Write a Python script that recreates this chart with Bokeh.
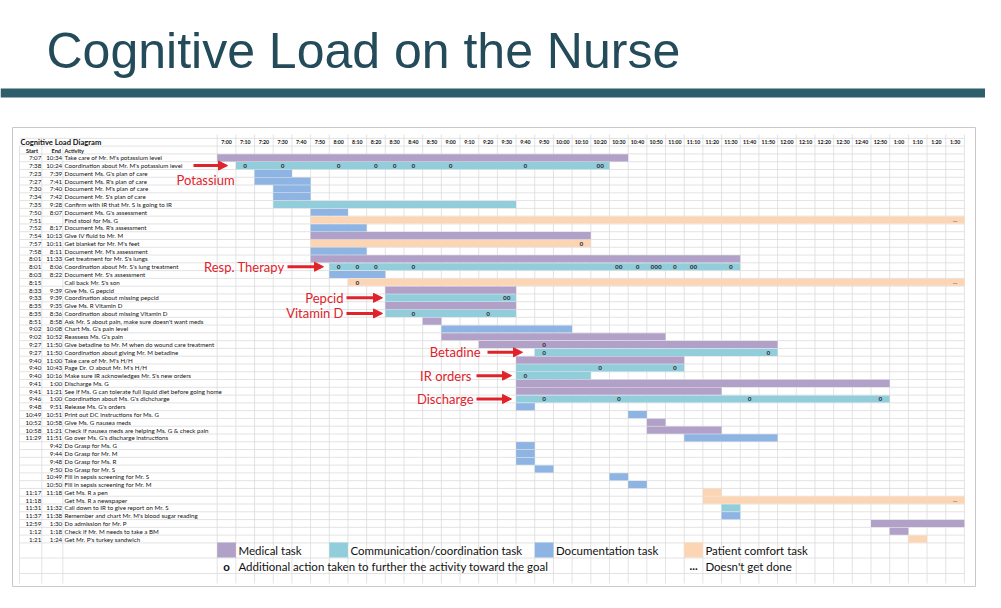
from bokeh.plotting import figure
from bokeh.models import Range1d, Arrow, NormalHead
from bokeh.embed import file_html
from bokeh.resources import INLINE
from bokeh.core.properties import value

# ---------------- data ----------------
tick_labels = ["7:00", "7:10", "7:20", "7:30", "7:40", "7:50", "8:00", "8:10", "8:20", "8:30",
               "8:40", "8:50", "9:00", "9:10", "9:20", "9:30", "9:40", "9:50", "10:00", "10:10",
               "10:20", "10:30", "10:40", "10:50", "11:00", "11:10", "11:20", "11:30", "11:40", "11:50",
               "12:00", "12:10", "12:20", "12:30", "12:40", "12:50", "1:00", "1:10", "1:20", "1:30"]

start_txt = ["7:07", "7:38", "7:23", "7:27", "7:30", "7:34", "7:35", "7:50", "7:51", "7:52",
             "7:54", "7:57", "7:58", "8:01", "8:01", "8:03", "8:15", "8:33", "9:33", "8:35",
             "8:35", "8:51", "9:02", "9:02", "9:27", "9:27", "9:40", "9:40", "9:40", "9:41",
             "9:41", "9:46", "9:48", "10:49", "10:52", "10:58", "11:29", "", "", "",
             "", "", "", "11:17", "11:18", "11:31", "11:37", "12:59", "1:12", "1:21"]

end_txt = ["10:34", "10:24", "7:39", "7:41", "7:40", "7:42", "9:28", "8:07", "", "8:17",
           "10:13", "10:11", "8:11", "11:33", "8:06", "8:22", "", "9:39", "9:39", "9:35",
           "8:36", "8:58", "10:08", "10:52", "11:50", "11:50", "11:00", "10:43", "10:16", "1:00",
           "11:21", "1:00", "9:51", "10:51", "10:58", "11:21", "11:51", "9:42", "9:44", "9:48",
           "9:50", "10:49", "10:50", "11:18", "", "11:32", "11:38", "1:30", "1:18", "1:24"]

activity = ["Take care of Mr. M's potassium level",
            "Coordination about Mr. M's potassium level",
            "Document Ms. G's plan of care",
            "Document Ms. R's plan of care",
            "Document Mr. M's plan of care",
            "Document Mr. S's plan of care",
            "Confirm with IR that Mr. S is going to IR",
            "Document Ms. G's assessment",
            "Find stool for Ms. G",
            "Document Ms. R's assessment",
            "Give IV fluid to Mr. M",
            "Get blanket for Mr. M's feet",
            "Document Mr. M's assessment",
            "Get treatment for Mr. S's lungs",
            "Coordination about Mr. S's lung treatment",
            "Document Mr. S's assessment",
            "Call back Mr. S's son",
            "Give Ms. G pepcid",
            "Coordination about missing pepcid",
            "Give Ms. R Vitamin D",
            "Coordination about missing Vitamin D",
            "Ask Mr. S about pain, make sure doesn't want meds",
            "Chart Ms. G's pain level",
            "Reassess Ms. G's pain",
            "Give betadine to Mr. M when do wound care treatment",
            "Coordination about giving Mr. M betadine",
            "Take care of Mr. M's H/H",
            "Page Dr. O about Mr. M's H/H",
            "Make sure IR acknowledges Mr. S's new orders",
            "Discharge Ms. G",
            "See if Ms. G can tolerate full liquid diet before going home",
            "Coordination about Ms. G's dichcharge",
            "Release Ms. G's orders",
            "Print out DC instructions for Ms. G",
            "Give Ms. G nausea meds",
            "Check if nausea meds are helping Ms. G & check pain",
            "Go over Ms. G's discharge instructions",
            "Do Grasp for Ms. G",
            "Do Grasp for Mr. M",
            "Do Grasp for Ms. R",
            "Do Grasp for Mr. S",
            "Fill in sepsis screening for Mr. S",
            "Fill in sepsis screening for Mr. M",
            "Get Ms. R a pen",
            "Get Ms. R a newspaper",
            "Call down to IR to give report on Mr. S",
            "Remember and chart Mr. M's blood sugar reading",
            "Do admission for Mr. P",
            "Check if Mr. M needs to take a BM",
            "Get Mr. P's turkey sandwich"]

# M = medical, C = communication/coordination, D = documentation, P = patient comfort
category = ["M", "C", "D", "D", "D", "D", "C", "D", "P", "D",
            "M", "P", "D", "M", "C", "D", "P", "M", "C", "M",
            "C", "M", "D", "M", "M", "C", "M", "C", "C", "M",
            "M", "C", "D", "D", "M", "M", "D", "D", "D", "D",
            "D", "D", "D", "P", "P", "C", "D", "M", "M", "P"]

# bar extent as drawn on the grid, minutes after 7:00
bar_from = [0, 10, 20, 20, 30, 30, 30, 50, 50, 50,
            50, 50, 50, 50, 60, 60, 70, 90, 90, 90,
            90, 110, 120, 120, 140, 170, 160, 160, 160, 160,
            160, 160, 160, 220, 230, 230, 250, 160, 160, 160,
            170, 210, 220, 260, 260, 270, 270, 350, 360, 370]
bar_to = [220, 210, 40, 50, 50, 50, 160, 70, 400, 80,
          200, 200, 80, 280, 280, 90, 400, 160, 160, 160,
          160, 120, 190, 240, 300, 300, 250, 250, 200, 360,
          270, 360, 170, 230, 240, 270, 300, 170, 170, 170,
          180, 220, 230, 270, 400, 280, 280, 400, 370, 380]

# "o" = additional action taken toward the goal (row, 10-minute cell, marks)
dot_row = [2, 2, 2, 2, 2, 2, 2, 2, 2,
           12,
           15, 15, 15, 15, 15, 15, 15, 15, 15, 15,
           17, 19, 21, 21, 25, 26, 26, 28, 28, 29,
           32, 32, 32, 32]
dot_at = [10, 30, 60, 80, 90, 100, 120, 160, 200,
          190,
          60, 70, 80, 100, 210, 220, 230, 240, 250, 270,
          70, 150, 100, 140, 170, 170, 290, 200, 240, 160,
          170, 210, 280, 350]
dot_txt = ["o", "o", "o", "o", "o", "o", "o", "o", "oo",
           "o",
           "o", "o", "o", "o", "oo", "o", "ooo", "o", "oo", "o",
           "o", "oo", "o", "o", "o", "o", "o", "o", "o", "o",
           "o", "o", "o", "o"]

# "..." = doesn't get done
undone_row = [9, 17, 45]
undone_at = [390, 390, 390]

legend_keys = ["M", "C", "D", "P"]
legend_labels = ["Medical task", "Communication/coordination task", "Documentation task", "Patient comfort task"]

callout_text = ["Potassium", "Resp. Therapy", "Pepcid", "Vitamin D", "Betadine", "IR orders", "Discharge"]
callout_row = [2, 15, 19, 21, 26, 29, 32]

colors = {"M": "#B1A0C7", "C": "#92CDDC", "D": "#8DB4E2", "P": "#FCD5B4"}

# ---------------- layout constants (pixels of the page) ----------------
X0, CW, Y0, RH = 216.7, 18.68, 149.52, 7.78


def xm(px):
    return (px - X0) / CW * 10.0


def yr(py):
    return (py - Y0) / RH


RED = "#E0232B"
GRID = "#DCDCDC"
FONT = value("Lato")

W, H = 985, 592
p = figure(width=W, height=H,
           x_range=Range1d(xm(0), xm(W)), y_range=Range1d(yr(H), yr(0)),
           output_backend="svg", toolbar_location=None,
           x_axis_type=None, y_axis_type=None, min_border=0)
p.outline_line_color = None
p.background_fill_color = "white"
p.border_fill_color = "white"

# slide band and screenshot panel
p.quad(left=[xm(0)], right=[xm(W)], top=[yr(88)], bottom=[yr(97)],
       fill_color="#2E5D6C", line_color=None)
p.quad(left=[xm(12)], right=[xm(975)], top=[yr(127)], bottom=[yr(586)],
       fill_color="white", line_color="#C9C9C9", line_width=1)

# slide title
p.text(x=[xm(46)], y=[yr(50)], text=["Cognitive Load on the Nurse"],
       text_font=value("Liberation Sans"), text_font_size="50px",
       text_color="#244B5A", text_baseline="middle", text_align="left")

n = len(activity)
rows = list(range(1, n + 1))

# grid
col_edges = [c * 10 for c in range(0, len(tick_labels) + 1)]
y_top, y_bot = yr(134), yr(583)
p.segment(x0=col_edges, x1=col_edges, y0=[y_top] * len(col_edges), y1=[y_bot] * len(col_edges),
          line_color=GRID, line_width=0.8)
h_lines = [r + 0.5 for r in range(-2, n + 1)] + [yr(557.5), yr(573)]
p.segment(x0=[xm(19)] * len(h_lines), x1=[xm(964)] * len(h_lines), y0=h_lines, y1=h_lines,
          line_color=GRID, line_width=0.8)
tv = [xm(19), xm(41.3), xm(62.3)]
p.segment(x0=tv, x1=tv, y0=[yr(145.6)] * 3, y1=[y_bot] * 3, line_color=GRID, line_width=0.8)

# bars
p.quad(left=bar_from, right=bar_to,
       top=[r - 0.46 for r in rows], bottom=[r + 0.46 for r in rows],
       fill_color=[colors[c] for c in category], line_color=None)

# marks
p.text(x=[a + 5 for a in dot_at], y=dot_row, text=dot_txt, text_font=FONT,
       text_font_size="6.5px", text_font_style="bold", text_color="#2F2F2F",
       text_align="center", text_baseline="middle")
p.text(x=[a + 5 for a in undone_at], y=undone_row, text=["..."] * len(undone_row), text_font=FONT,
       text_font_size="6px", text_font_style="bold", text_color="#555555",
       text_align="center", text_baseline="middle")

# header
p.text(x=[xm(20)], y=[-1], text=["Cognitive Load Diagram"], text_font=FONT, text_font_size="7.6px",
       text_font_style="bold", text_color="#111111", text_baseline="middle")
p.text(x=[xm(25.5), xm(51), xm(64)], y=[0, 0, 0], text=["Start", "End", "Activity"],
       text_font=FONT, text_font_size="5.6px", text_font_style="bold", text_color="#111111",
       text_baseline="middle", text_align="left")
p.text(x=[c * 10 + 5 for c in range(len(tick_labels))], y=[-1] * len(tick_labels), text=tick_labels,
       text_font=FONT, text_font_size="5.2px", text_font_style="bold", text_color="#111111",
       text_align="center", text_baseline="middle")

# table text
p.text(x=[xm(40.8)] * n, y=rows, text=start_txt, text_font=FONT, text_font_size="6.2px",
       text_color="#111111", text_align="right", text_baseline="middle")
p.text(x=[xm(61.6)] * n, y=rows, text=end_txt, text_font=FONT, text_font_size="6.2px",
       text_color="#111111", text_align="right", text_baseline="middle")
p.text(x=[xm(64)] * n, y=rows, text=activity, text_font=FONT, text_font_size="6.2px",
       text_color="#111111", text_align="left", text_baseline="middle")

# legend
leg_at = [0, 60, 170, 250]
p.quad(left=leg_at, right=[a + 10 for a in leg_at], top=[yr(542)] * 4, bottom=[yr(557)] * 4,
       fill_color=[colors[k] for k in legend_keys], line_color=None)
off = xm(X0 + 2.5)
p.text(x=[a + 10 + off for a in leg_at], y=[yr(549.5)] * 4, text=legend_labels,
       text_font=FONT, text_font_size="11.5px", text_color="#111111", text_baseline="middle")
p.text(x=[5, 255], y=[yr(565.5)] * 2, text=["o", "..."], text_font=FONT, text_font_size="11.5px",
       text_font_style="bold", text_color="#111111", text_baseline="middle", text_align="center")
p.text(x=[10 + off, 260 + off], y=[yr(565.5)] * 2,
       text=["Additional action taken to further the activity toward the goal", "Doesn't get done"],
       text_font=FONT, text_font_size="11.5px", text_color="#111111", text_baseline="middle")

# callouts (red arrows with labels)
arrow_px = {"Potassium": (193, 227), "Resp. Therapy": (287, 323), "Pepcid": (346, 382),
            "Vitamin D": (346, 382), "Betadine": (487, 522), "IR orders": (476, 511),
            "Discharge": (476, 511)}
label_px = {"Potassium": (176, "left", yr(179)), "Resp. Therapy": (284, "right", None),
            "Pepcid": (343, "right", None), "Vitamin D": (343, "right", None),
            "Betadine": (480, "right", None), "IR orders": (471, "right", None),
            "Discharge": (473, "right", None)}
for t, r in zip(callout_text, callout_row):
    x0, x1 = arrow_px[t]
    p.add_layout(Arrow(end=NormalHead(size=9, fill_color=RED, line_color=RED),
                       x_start=xm(x0), y_start=r, x_end=xm(x1), y_end=r,
                       line_color=RED, line_width=3))
    lx, al, ly = label_px[t]
    p.text(x=[xm(lx)], y=[ly if ly is not None else r], text=[t], text_font=FONT,
           text_font_size="13px", text_color=RED, text_align=al, text_baseline="middle")

open("out.html", "w").write(file_html(p, INLINE))
